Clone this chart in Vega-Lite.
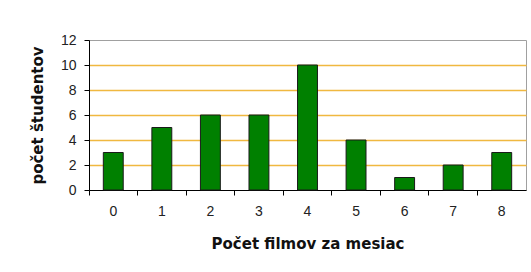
{
  "$schema": "https://vega.github.io/schema/vega-lite/v6.json",
  "width": 437,
  "height": 150,
  "autosize": {"type": "none"},
  "padding": {"left": 89, "top": 40, "right": 5, "bottom": 82},
  "background": "white",
  "config": {
    "view": {"stroke": "#a0a0a0", "strokeWidth": 1},
    "font": "Liberation Sans"
  },
  "data": {
    "values": [
      {"filmy": "0", "studenti": 3},
      {"filmy": "1", "studenti": 5},
      {"filmy": "2", "studenti": 6},
      {"filmy": "3", "studenti": 6},
      {"filmy": "4", "studenti": 10},
      {"filmy": "5", "studenti": 4},
      {"filmy": "6", "studenti": 1},
      {"filmy": "7", "studenti": 2},
      {"filmy": "8", "studenti": 3}
    ]
  },
  "mark": {"type": "bar", "fill": "#008000", "stroke": "#1a1a1a", "strokeWidth": 1, "width": {"band": 0.41}},
  "encoding": {
    "x": {
      "field": "filmy",
      "type": "ordinal",
      "sort": null,
      "scale": {"paddingInner": 0, "paddingOuter": 0},
      "axis": {
        "title": "Počet filmov za mesiac",
        "titleFont": "DejaVu Sans",
        "titleFontSize": 15,
        "titleFontWeight": "bold",
        "titleColor": "#111",
        "titlePadding": 18,
        "labelAngle": 0,
        "labelFont": "Liberation Sans",
        "labelFontSize": 14,
        "labelColor": "#222",
        "labelPadding": 9,
        "bandPosition": 0,
        "tickColor": "#000",
        "tickSize": 5,
        "domainColor": "#000",
        "grid": false
      }
    },
    "y": {
      "field": "studenti",
      "type": "quantitative",
      "scale": {"domain": [0, 12], "nice": false},
      "axis": {
        "title": "počet študentov",
        "titleFont": "DejaVu Sans",
        "titleFontSize": 15,
        "titleFontWeight": "bold",
        "titleColor": "#111",
        "titlePadding": 15,
        "values": [0, 2, 4, 6, 8, 10, 12],
        "labelFont": "Liberation Sans",
        "labelFontSize": 14,
        "labelColor": "#222",
        "labelPadding": 8,
        "tickColor": "#000",
        "tickSize": 5,
        "domainColor": "#000",
        "grid": true,
        "gridColor": "#f0b840",
        "gridWidth": 1.5,
        "gridOpacity": {"condition": {"test": "datum.value == 0 || datum.value == 12", "value": 0}, "value": 1}
      }
    }
  }
}
